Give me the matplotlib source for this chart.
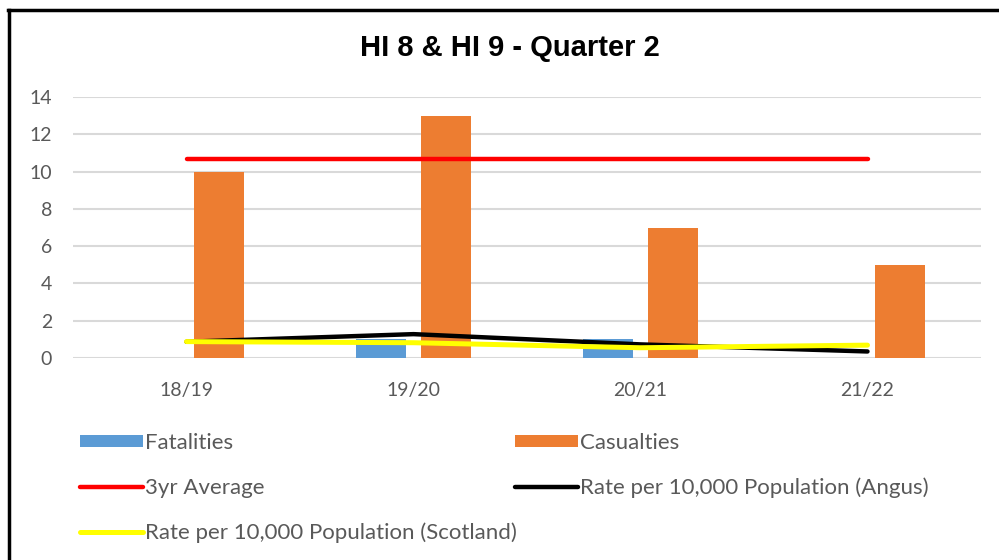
import numpy as np
import matplotlib
matplotlib.use('Agg')
import matplotlib.pyplot as plt
from matplotlib.lines import Line2D

###############################################################################
# Data
###############################################################################
years = ['18/19', '19/20', '20/21', '21/22']
fatalities = [0, 1, 1, 0]
casualties = [10, 13, 7, 5]
three_yr_average = [10.67, 10.67, 10.67, 10.67]
rate_angus = [0.87, 1.28, 0.73, 0.35]
rate_scotland = [0.88, 0.82, 0.55, 0.69]

y_ticks = [0, 2, 4, 6, 8, 10, 12, 14]

###############################################################################
# Plot
###############################################################################
plt.rcParams['font.family'] = ['Lato', 'DejaVu Sans']

fig = plt.figure(figsize=(9.99, 5.6), dpi=100)
ax = fig.add_axes([73 / 999, 1 - 358 / 560, (981 - 73) / 999, (358 - 97) / 560])

x = np.arange(len(years))
bar_w = 0.22
offset = 0.143

b1 = ax.bar(x - offset, fatalities, bar_w, color='#5B9BD5', zorder=2, label='Fatalities')
b2 = ax.bar(x + offset, casualties, bar_w, color='#ED7D31', zorder=2, label='Casualties')
l1, = ax.plot(x, three_yr_average, color='#FF0000', lw=3.2, solid_capstyle='round',
              zorder=3, label='3yr Average')
l2, = ax.plot(x, rate_angus, color='black', lw=3.2, solid_capstyle='round',
              zorder=4, label='Rate per 10,000 Population (Angus)')
l3, = ax.plot(x, rate_scotland, color='#FFFF00', lw=3.6, solid_capstyle='round',
              zorder=5, label='Rate per 10,000 Population (Scotland)')

ax.set_xlim(-0.5, len(years) - 0.5)
ax.set_ylim(0, 14)
ax.set_yticks(y_ticks)
ax.set_xticks(x)
ax.set_xticklabels(years)
ax.grid(axis='y', color='#D9D9D9', lw=1.5, zorder=0)
ax.set_axisbelow(True)
for s in ax.spines.values():
    s.set_visible(False)
ax.tick_params(axis='both', length=0, colors='#595959', labelsize=14)
ax.tick_params(axis='y', pad=15)
ax.tick_params(axis='x', pad=17)

fig.text(0.51, 1 - 48 / 560, 'HI 8 & HI 9 - Quarter 2', ha='center', va='center',
         fontsize=21, fontweight='bold', family='Liberation Sans')

handles = [b1, l1, l3, b2, l2]
labels = [h.get_label() for h in handles]
fig.legend(handles, labels, loc='upper left', bbox_to_anchor=(80 / 999, 1 - 433 / 560),
           ncol=2, frameon=False, fontsize=16, handlelength=2.85, handleheight=0.5,
           handletextpad=0.08, labelspacing=1.12, columnspacing=-0.1, borderpad=0,
           borderaxespad=0, labelcolor='#595959')

# chart frame (top and left edges visible)
fig.add_artist(Line2D([8 / 999, 1], [1 - 10 / 560, 1 - 10 / 560], color='black', lw=2.5,
                      transform=fig.transFigure))
fig.add_artist(Line2D([9 / 999, 9 / 999], [0, 1 - 10 / 560], color='black', lw=2.5,
                      transform=fig.transFigure))

fig.savefig('out.png', dpi=100)
